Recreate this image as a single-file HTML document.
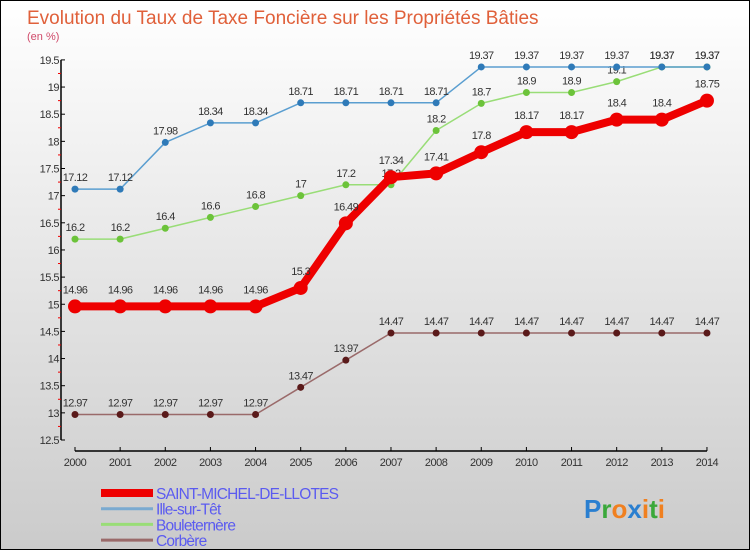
<!DOCTYPE html>
<html><head><meta charset="utf-8"><style>
body{margin:0;width:750px;height:550px;overflow:hidden;font-family:"Liberation Sans",sans-serif}
#wrap{position:relative;width:748px;height:548px;border:1px solid #000;background:linear-gradient(#fff,#cbcbcb)}
</style></head><body>
<div id="wrap">
<svg id="chart" width="748" height="548">
<text x="26" y="23" font-size="19" fill="#e0603a">Evolution du Taux de Taxe Foncière sur les Propriétés Bâties</text>
<text x="26" y="39" font-size="11" fill="#d04a6a">(en %)</text>
</svg>
</div>
<script>
const years=["2000","2001","2002","2003","2004","2005","2006","2007","2008","2009","2010","2011","2012","2013","2014"];
const yTicks=[12.5,13,13.5,14,14.5,15,15.5,16,16.5,17,17.5,18,18.5,19,19.5];
const saint=[14.96,14.96,14.96,14.96,14.96,15.3,16.49,17.34,17.41,17.8,18.17,18.17,18.4,18.4,18.75];
const ille=[17.12,17.12,17.98,18.34,18.34,18.71,18.71,18.71,18.71,19.37,19.37,19.37,19.37,19.37,19.37];
const boul=[16.2,16.2,16.4,16.6,16.8,17,17.2,17.2,18.2,18.7,18.9,18.9,19.1,19.37,19.37];
const corb=[12.97,12.97,12.97,12.97,12.97,13.47,13.97,14.47,14.47,14.47,14.47,14.47,14.47,14.47,14.47];
const seriesNames=["SAINT-MICHEL-DE-LLOTES","Ille-sur-Têt","Bouleternère","Corbère"];
const svg=document.getElementById('chart');const NS="http://www.w3.org/2000/svg";
function X(i){return 74+i*45.14;}
function Y(v){return 439-(v-12.5)*54.3;}
function mk(t,a,p){const e=document.createElementNS(NS,t);for(const k in a)e.setAttribute(k,a[k]);(p||svg).appendChild(e);return e;}
// axes
let e=mk('line',{x1:60,y1:Y(19.5),x2:60,y2:Y(12.5),stroke:'#000','stroke-width':1.5});


e=mk('line',{x1:X(0),y1:450,x2:X(14),y2:450,stroke:'#000','stroke-width':1.5});


for(let v=12.75;v<19.5;v+=0.5){mk('line',{x1:57,y1:Y(v),x2:60,y2:Y(v),stroke:'#e00'});}
yTicks.forEach(v=>{mk('line',{x1:60,y1:Y(v),x2:64,y2:Y(v),stroke:'#000'});
const t=mk('text',{x:58,y:Y(v)+4,'text-anchor':'end','font-size':11,fill:'#333','letter-spacing':'-0.5'});t.textContent=v;

});
years.forEach((y,i)=>{mk('line',{x1:X(i),y1:446,x2:X(i),y2:450,stroke:'#000'});
const t=mk('text',{x:X(i),y:465,'text-anchor':'middle','font-size':11,fill:'#333','letter-spacing':'-0.5'});t.textContent=y;

});
function draw(data,line,dot,w,r,name,lblDy){
const g=mk('g',{});


mk('polyline',{points:data.map((v,i)=>X(i)+','+Y(v)).join(' '),fill:'none',stroke:line,'stroke-width':w,'stroke-linejoin':'round'},g);
data.forEach((v,i)=>{mk('circle',{cx:X(i),cy:Y(v),r:r,fill:dot},g);
const t=mk('text',{x:X(i),y:Y(v)-lblDy,'text-anchor':'middle','font-size':11,fill:'#333','letter-spacing':'-0.6'},g);t.textContent=v;});}
draw(corb,'#9a6a6a','#5a1a1a',1.5,3.5,'series-corbere',8);
draw(boul,'#99dd77','#6cc33a',1.5,3.5,'series-bouleternere',8);
draw(ille,'#5a9ed0','#2f7ab8',1.5,3.5,'series-ille-sur-tet',8);
draw(saint,'#ee0000','#ee0000',8,7,'series-saint-michel',13);
const lc=['#ee0000','#7aaad0','#99dd77','#9a6a6a'],lw=[8,3,3,3];
seriesNames.forEach((n,i)=>{const y=492+i*15.7;
mk('line',{x1:100,y1:y,x2:152,y2:y,stroke:lc[i],'stroke-width':lw[i]});
const t=mk('text',{x:155,y:y+6,'font-size':15.5,fill:'#5b5bf0','letter-spacing':'-0.8'});t.textContent=n;

});
const lg=mk('text',{x:583,y:517,'font-size':26,'font-weight':'bold'});


[['P','#2a7fd0'],['r','#3aa83a'],['o','#f08020'],['x','#2a7fd0'],['i','#f08020'],['t','#3aa83a'],['i','#f08020']].forEach(([c,f])=>{const s=mk('tspan',{fill:f},lg);s.textContent=c;});
</script>
</body></html>
